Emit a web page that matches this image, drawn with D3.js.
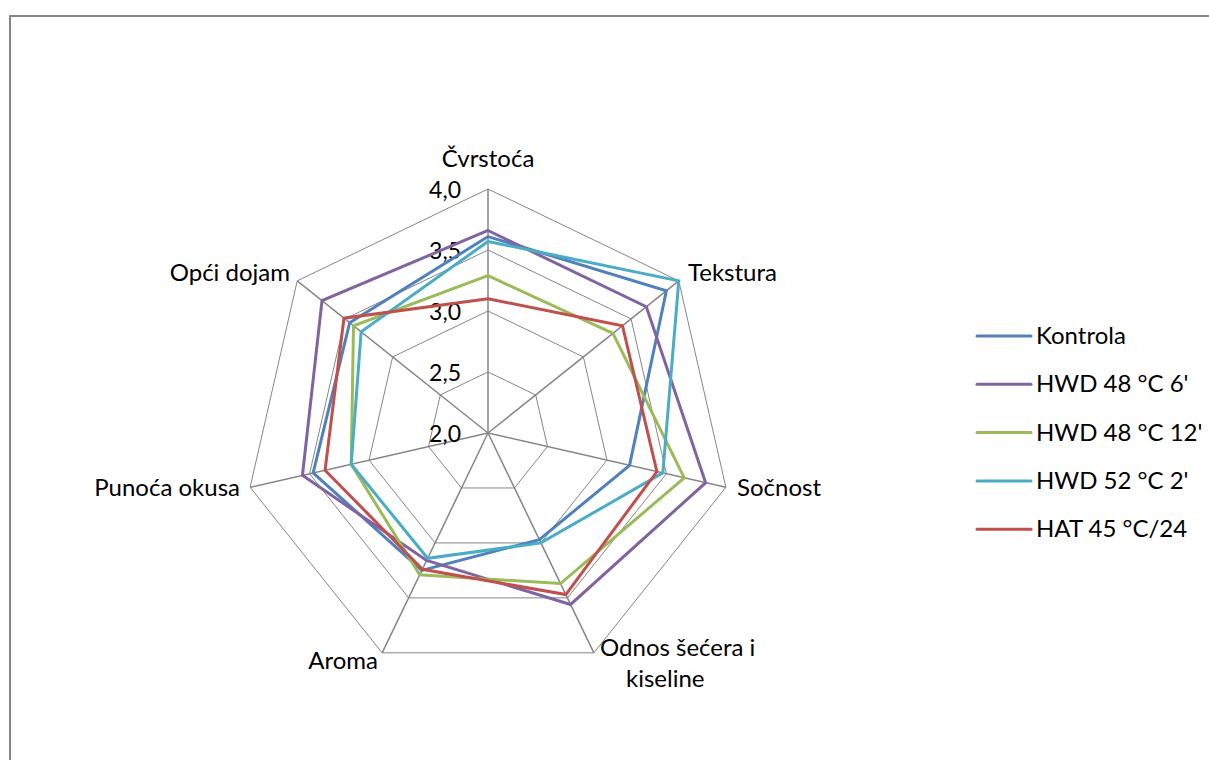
<!DOCTYPE html>
<html>
<head>
<meta charset="utf-8">
<script src="https://cdn.jsdelivr.net/npm/d3@7"></script>
<style>
  html, body { margin: 0; padding: 0; background: #fff; }
  svg { display: block; }
  text { font-family: Lato, "Open Sans", sans-serif; fill: #000; }
</style>
</head>
<body>
<svg id="chart" width="1209" height="760"></svg>
<script>
const categories = ["Čvrstoća", "Tekstura", "Sočnost", "Odnos šećera i kiseline", "Aroma", "Punoća okusa", "Opći dojam"];
const seriesNames = ["Kontrola", "HWD 48 °C 6'", "HWD 48 °C 12'", "HWD 52 °C 2'", "HAT 45 °C/24"];
const kontrola   = [3.61, 3.87, 3.19, 2.97, 3.25, 3.47, 3.45];
const hwd48_6    = [3.66, 3.66, 3.83, 3.56, 3.16, 3.56, 3.74];
const hwd48_12   = [3.29, 3.31, 3.65, 3.37, 3.29, 3.15, 3.41];
const hwd52_2    = [3.57, 4.00, 3.47, 3.00, 3.14, 3.15, 3.33];
const hat45_24   = [3.10, 3.41, 3.42, 3.47, 3.24, 3.37, 3.51];
const tickValues = [2.0, 2.5, 3.0, 3.5, 4.0];
const tickLabels = ["2,0", "2,5", "3,0", "3,5", "4,0"];
const seriesColors = ["#4F81BD", "#8064A2", "#9BBB59", "#4BACC6", "#C0504D"];

const seriesData = [kontrola, hwd48_6, hwd48_12, hwd52_2, hat45_24];

const svg = d3.select("#chart");
const cx = 488, cy = 433, R = 244;

// frame
svg.append("rect").attr("x", 10).attr("y", 16).attr("width", 1220).attr("height", 780)
  .attr("fill", "none").attr("stroke", "#868686").attr("stroke-width", 2);

const g = svg.append("g").attr("transform", `translate(${cx},${cy})`);

const r = d3.scaleLinear().domain([2, 4]).range([0, R]);
const angle = d3.scalePoint().domain(d3.range(categories.length)).range([0, 2 * Math.PI * (categories.length - 1) / categories.length]);

// rings
const ringLine = d3.lineRadial().angle((d, i) => angle(i)).radius(d => r(d)).curve(d3.curveLinearClosed);
tickValues.slice(1).forEach(v => {
  g.append("path").attr("d", ringLine(categories.map(() => v)))
    .attr("fill", "none").attr("stroke", "#868686").attr("stroke-width", 1);
});

// spokes
categories.forEach((c, i) => {
  const a = angle(i);
  g.append("line").attr("x1", 0).attr("y1", 0)
    .attr("x2", r(4) * Math.sin(a)).attr("y2", -r(4) * Math.cos(a))
    .attr("stroke", "#868686").attr("stroke-width", 1.5);
});

// tick labels
tickValues.forEach((v, i) => {
  g.append("text").attr("x", -27).attr("y", -r(v) + 3)
    .attr("text-anchor", "end").attr("dominant-baseline", "middle")
    .attr("font-size", 23).text(tickLabels[i]);
});

// series
const seriesLine = d3.lineRadial().angle((d, i) => angle(i)).radius(d => r(d)).curve(d3.curveLinearClosed);
seriesData.forEach((vals, k) => {
  g.append("path").attr("d", seriesLine(vals))
    .attr("fill", "none").attr("stroke", seriesColors[k]).attr("stroke-width", 3)
    .attr("stroke-linejoin", "miter");
});

// category labels
const labelFs = 24;
const catPos = [
  {x: 0, y: -272, anchor: "middle"},
  {x: 200, y: -158, anchor: "start"},
  {x: 249, y: 57, anchor: "start"},
  {x: 112, y: 217, anchor: "start"},
  {x: -110, y: 230, anchor: "end"},
  {x: -248, y: 57, anchor: "end"},
  {x: -198, y: -158, anchor: "end"}
];
categories.forEach((c, i) => {
  const p = catPos[i];
  const t = g.append("text").attr("x", p.x).attr("y", p.y)
    .attr("text-anchor", p.anchor).attr("dominant-baseline", "middle")
    .attr("font-size", labelFs);
  if (c === "Odnos šećera i kiseline") {
    t.append("tspan").attr("x", p.x).attr("dy", 0).text("Odnos šećera i");
    t.append("tspan").attr("x", p.x + 26).attr("dy", 31).text("kiseline");
  } else {
    t.text(c);
  }
});

// legend
const legend = svg.append("g").attr("transform", "translate(977,336)");
seriesNames.forEach((n, k) => {
  const row = legend.append("g").attr("transform", `translate(0,${k * 48.3})`);
  row.append("line").attr("x1", 0).attr("x2", 54).attr("y1", 0).attr("y2", 0)
    .attr("stroke", seriesColors[k]).attr("stroke-width", 3).attr("stroke-linecap", "round");
  row.append("text").attr("x", 59).attr("y", 2).attr("dominant-baseline", "middle")
    .attr("font-size", labelFs).text(n);
});
</script>
</body>
</html>
